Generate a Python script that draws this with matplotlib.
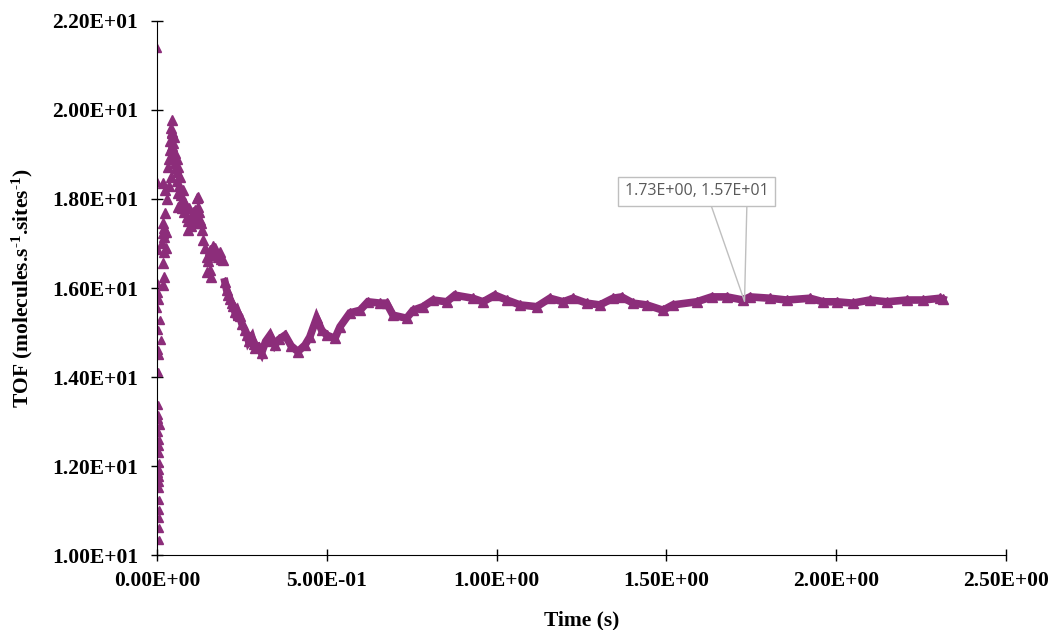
import matplotlib.pyplot as plt
from matplotlib.ticker import FuncFormatter

plt.rcParams['font.family'] = ['Liberation Serif', 'DejaVu Serif']
plt.rcParams['font.weight'] = 'bold'
plt.rcParams['mathtext.fontset'] = 'custom'
plt.rcParams['mathtext.rm'] = 'Liberation Serif:bold'
plt.rcParams['mathtext.default'] = 'rm'

PURPLE = '#8C2D7A'

# first instants: scattered values at t ~ 0
early_time = [0.000, 0.000, 0.002, 0.001, 0.004, 0.006, 0.001, 0.009, 0.002,
              0.013, 0.003, 0.006, 0.002, 0.003, 0.004, 0.008, 0.004, 0.006,
              0.005, 0.006, 0.005, 0.006, 0.005, 0.006, 0.005, 0.005, 0.005,
              0.005, 0.006, 0.003, 0.005, 0.004]
early_tof = [21.39, 18.39, 16.85, 16.11, 15.89, 15.73, 15.55, 15.28, 15.06,
             14.83, 14.60, 14.49, 14.12, 13.37, 13.15, 12.92, 12.77, 12.58,
             12.29, 12.07, 11.91, 11.76, 11.65, 11.51, 11.24, 11.01, 10.83,
             10.61, 10.34, 13.05, 12.45, 11.85]

# rise to the peak and decay
rise_time = [0.018, 0.020, 0.018, 0.016, 0.018, 0.018, 0.024, 0.024, 0.018,
             0.033, 0.038, 0.043, 0.043, 0.048, 0.053, 0.053, 0.058, 0.063,
             0.068, 0.063, 0.063, 0.073, 0.082, 0.087, 0.092, 0.102, 0.112,
             0.117, 0.122, 0.127, 0.132, 0.136, 0.146, 0.146, 0.156, 0.171,
             0.186, 0.195,
             0.022, 0.021, 0.020, 0.026, 0.028, 0.030, 0.035, 0.036, 0.038,
             0.040, 0.040, 0.045, 0.045, 0.048, 0.050, 0.050, 0.055, 0.058,
             0.060, 0.065, 0.070, 0.075, 0.078, 0.080, 0.085, 0.090, 0.095,
             0.100, 0.105, 0.108, 0.110, 0.115, 0.120, 0.125, 0.130, 0.140,
             0.150, 0.155, 0.160, 0.160, 0.165, 0.175, 0.180, 0.190]
rise_tof = [16.07, 16.25, 16.56, 17.01, 17.24, 17.46, 17.69, 18.20, 18.36,
            18.73, 19.10, 19.48, 19.78, 19.26, 19.03, 18.81, 18.61, 18.73,
            18.50, 18.13, 17.83, 17.98, 17.91, 17.60, 17.30, 17.60, 17.75,
            18.02, 17.83, 17.53, 17.30, 17.08, 16.70, 16.37, 16.85, 16.90,
            16.82, 16.63,
            16.80, 17.15, 17.35, 17.25, 16.90, 18.00, 18.90, 18.30, 19.30,
            19.60, 18.50, 19.50, 19.20, 18.95, 19.40, 18.90, 18.70, 18.90,
            18.40, 18.30, 18.10, 17.80, 18.20, 17.70, 17.85, 17.50, 17.80,
            17.40, 17.70, 17.45, 17.65, 17.60, 18.05, 17.70, 17.45, 16.90,
            16.60, 16.40, 16.75, 16.25, 16.95, 16.80, 16.70, 16.65]

# settling towards steady state
main_time = [0.200, 0.205, 0.210, 0.215, 0.220, 0.225, 0.230, 0.235, 0.240,
             0.244, 0.250, 0.259, 0.265, 0.270, 0.279, 0.285, 0.290, 0.298,
             0.308, 0.320, 0.333, 0.347, 0.360, 0.377, 0.395, 0.415, 0.436,
             0.450, 0.470, 0.485, 0.500, 0.524, 0.539, 0.568, 0.598, 0.621,
             0.657, 0.676,
             0.695, 0.735, 0.754, 0.783, 0.813, 0.853, 0.877, 0.930, 0.960,
             0.995, 1.030, 1.069, 1.118, 1.157, 1.196, 1.225, 1.265, 1.304,
             1.343, 1.368, 1.402, 1.442, 1.490, 1.519, 1.589, 1.633, 1.678,
             1.726, 1.746, 1.805, 1.854, 1.923, 1.961, 2.001, 2.049, 2.099,
             2.149, 2.208, 2.256, 2.306, 2.314]
main_tof = [16.14, 15.96, 15.85, 15.75, 15.66, 15.60, 15.45, 15.50, 15.40,
            15.36, 15.20, 15.06, 14.95, 14.80, 14.90, 14.75, 14.65, 14.68,
            14.54, 14.80, 14.94, 14.72, 14.85, 14.94, 14.70, 14.57, 14.72,
            14.90, 15.32, 15.05, 14.94, 14.87, 15.13, 15.44, 15.50, 15.69,
            15.66, 15.66,
            15.39, 15.32, 15.50, 15.58, 15.73, 15.69, 15.84, 15.77, 15.69,
            15.84, 15.73, 15.62, 15.58, 15.77, 15.69, 15.77, 15.66, 15.62,
            15.77, 15.80, 15.66, 15.62, 15.50, 15.62, 15.69, 15.80, 15.80,
            15.73, 15.80, 15.77, 15.73, 15.77, 15.69, 15.69, 15.66, 15.73,
            15.69, 15.73, 15.73, 15.77, 15.75]

label_point = (1.73, 15.7)

fig = plt.figure(figsize=(10.52, 6.3), dpi=100)
ax = fig.add_axes([0.1492, 0.119, 0.8071, 0.8477])

ax.plot(early_time, early_tof, ls='none', marker='^', ms=6, color=PURPLE)
ax.plot(rise_time, rise_tof, ls='none', marker='^', ms=6.5, color=PURPLE)
ax.plot(main_time, main_tof, ls='-', lw=5.5, marker='^', ms=6.5,
        color=PURPLE, solid_joinstyle='miter')

ax.set_xlim(0, 2.5)
ax.set_ylim(10, 22)
ax.set_xticks([0, 0.5, 1.0, 1.5, 2.0, 2.5])
ax.set_yticks([10, 12, 14, 16, 18, 20, 22])
sci = FuncFormatter(lambda v, p: '%.2E' % v)
ax.xaxis.set_major_formatter(sci)
ax.yaxis.set_major_formatter(sci)
ax.tick_params(direction='inout', length=9, width=1, labelsize=15.5)
ax.tick_params(axis='y', pad=9)
ax.tick_params(axis='x', pad=7)
for s in ['top', 'right']:
    ax.spines[s].set_visible(False)

ax.set_xlabel('Time (s)', fontsize=15.5, fontweight='bold', labelpad=14)
ax.set_ylabel(r'TOF (molecules.s$^{\text{-}1}$.sites$^{\text{-}1}$)',
              fontsize=15.5, fontweight='bold', labelpad=12)

# data label callout
ax.plot([1.631, label_point[0], 1.737], [17.87, label_point[1], 17.87],
        color='#BFBFBF', lw=1)
ax.text(1.589, 18.17, '1.73E+00, 1.57E+01', ha='center', va='center',
        fontsize=11.5, fontweight='normal', family=['Open Sans', 'DejaVu Sans'],
        color='#595959',
        bbox=dict(boxstyle='square,pad=0.4', fc='white', ec='#BFBFBF', lw=1))

fig.savefig('out.png', dpi=100)
